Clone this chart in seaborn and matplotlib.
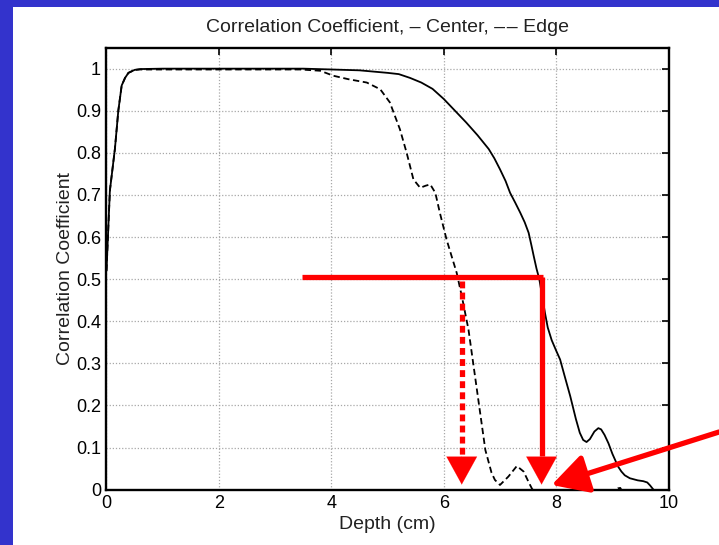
import numpy as np
import pandas as pd
import matplotlib
matplotlib.use("Agg")
import matplotlib.pyplot as plt
from matplotlib.patches import Rectangle
import seaborn as sns

# Correlation coefficient vs depth: centre of the field (solid) and edge (dashed)
center_depth = [0.0, 0.06, 0.15, 0.21, 0.27, 0.33, 0.39, 0.5, 0.6, 1.0, 2.0, 3.0, 3.5,
                4.0, 4.5, 5.0, 5.2, 5.4, 5.6, 5.8, 6.0, 6.2, 6.4, 6.6, 6.8, 6.9, 7.0,
                7.1, 7.18, 7.27, 7.36, 7.44, 7.51, 7.56, 7.6, 7.65, 7.7, 7.75, 7.8, 7.85,
                7.92, 8.0, 8.07, 8.15, 8.25, 8.35, 8.42, 8.48, 8.54, 8.6, 8.68, 8.75, 8.8,
                8.86, 8.93, 9.0, 9.05, 9.1, 9.16, 9.22, 9.31, 9.45, 9.55, 9.62, 9.67, 9.73]
center_corr = [0.52, 0.71, 0.81, 0.90, 0.96, 0.978, 0.99, 0.997, 0.999, 1.0, 1.0, 1.0, 1.0,
               0.998, 0.996, 0.99, 0.987, 0.978, 0.967, 0.952, 0.928, 0.90, 0.872, 0.842,
               0.809, 0.787, 0.761, 0.733, 0.705, 0.682, 0.658, 0.635, 0.61, 0.58, 0.555,
               0.525, 0.50, 0.46, 0.42, 0.385, 0.355, 0.33, 0.309, 0.27, 0.222, 0.168,
               0.135, 0.118, 0.113, 0.12, 0.138, 0.146, 0.143, 0.13, 0.11, 0.085, 0.07,
               0.055, 0.043, 0.034, 0.027, 0.022, 0.02, 0.017, 0.01, 0.0]

edge_depth = [0.0, 0.06, 0.15, 0.21, 0.27, 0.33, 0.39, 0.5, 0.6, 1.0, 2.0, 3.0, 3.45,
              3.8, 4.04, 4.3, 4.63, 4.87, 5.04, 5.22, 5.34, 5.46, 5.58, 5.68, 5.76, 5.85,
              5.93, 6.05, 6.15, 6.23, 6.32, 6.44, 6.59, 6.74, 6.85, 6.91, 7.0, 7.15, 7.3,
              7.42, 7.52, 7.57, 7.7, 8.0, 8.4, 8.5, 8.6, 8.9, 9.1, 9.14, 9.2, 9.4]
edge_corr = [0.52, 0.71, 0.81, 0.90, 0.96, 0.978, 0.99, 0.997, 0.998, 0.998, 0.998, 0.998, 0.998,
             0.995, 0.983, 0.975, 0.967, 0.951, 0.92, 0.856, 0.80, 0.737, 0.717, 0.722, 0.725,
             0.705, 0.658, 0.594, 0.55, 0.515, 0.46, 0.38, 0.237, 0.094, 0.04, 0.023, 0.011,
             0.031, 0.056, 0.043, 0.015, 0.002, -0.02, -0.03, -0.005, 0.011, -0.005, -0.02,
             0.003, 0.004, -0.01, -0.03]

x_ticks = [0, 2, 4, 6, 8, 10]
y_ticks = [0, 0.1, 0.2, 0.3, 0.4, 0.5, 0.6, 0.7, 0.8, 0.9, 1]
y_tick_labels = ["0", "0.1", "0.2", "0.3", "0.4", "0.5", "0.6", "0.7", "0.8", "0.9", "1"]

# Half-correlation markers
half_level = 0.505
half_start = 3.47
edge_half_depth = 6.32
center_half_depth = 7.74
arrow_tip = 0.012
pointer_tip = (7.92, 0.011)

df = pd.concat([
    pd.DataFrame({"Depth": center_depth, "Corr": center_corr, "Position": "Center"}),
    pd.DataFrame({"Depth": edge_depth, "Corr": edge_corr, "Position": "Edge"}),
])

sns.set_theme(style="white")
plt.rcParams["font.family"] = ["Liberation Sans", "DejaVu Sans"]

BLUE = "#3333cc"
RED = "#ff0000"
TEXT = "#222222"

fig = plt.figure(figsize=(7.19, 5.45), dpi=100, facecolor=BLUE)
fig.patches.append(Rectangle((13 / 719, 0), 1, (545 - 7) / 545, transform=fig.transFigure,
                             facecolor="white", edgecolor="none", zorder=-10))
ax = fig.add_axes([106.5 / 719, (545 - 489.6) / 545, (668.6 - 106.5) / 719, (489.6 - 47.6) / 545])
ax.set_zorder(1)
ax.set_facecolor("white")

sns.lineplot(data=df, x="Depth", y="Corr", hue="Position", style="Position",
             palette={"Center": "black", "Edge": "black"},
             dashes={"Center": "", "Edge": (3.5, 2)}, linewidth=1.3,
             legend=False, ax=ax, sort=False, estimator=None)

ax.set_xlim(0, 10)
ax.set_ylim(0, 1.05)
ax.set_xticks(x_ticks)
ax.set_xticklabels([str(t) for t in x_ticks])
ax.set_yticks(y_ticks)
ax.set_yticklabels(y_tick_labels)
ax.grid(True, color="#a8a8a8", linestyle=(0, (1, 1.5)), linewidth=0.9)
ax.tick_params(direction="in", length=5, width=1.2, top=True, right=True,
               labelsize=13, colors="black", pad=4)
for s in ax.spines.values():
    s.set_linewidth(1.7)
    s.set_color("black")

ax.set_title("Correlation Coefficient, \u2013 Center, \u2013\u200a\u2013 Edge", fontsize=14,
             color=TEXT, pad=11)
ax.set_xlabel("Depth (cm)", fontsize=14, labelpad=3, color=TEXT)
ax.set_ylabel("Correlation Coefficient", fontsize=14, labelpad=1, color=TEXT)

# Red guide lines at correlation 0.5
ax.plot([half_start, center_half_depth + 0.03], [half_level, half_level], color=RED,
        linewidth=3.8, solid_capstyle="butt", zorder=5)
ax.plot([center_half_depth, center_half_depth], [half_level, 0.08], color=RED,
        linewidth=3.8, solid_capstyle="butt", zorder=5)
ax.plot([edge_half_depth, edge_half_depth], [half_level - 0.01, 0.08], color=RED,
        linewidth=3.8, linestyle=(0, (1.3, 0.8)), dash_capstyle="butt", zorder=5)
head = dict(arrowstyle="-|>,head_length=1.0,head_width=0.55", mutation_scale=20,
            color=RED, lw=0.1, shrinkA=0, shrinkB=0)
for xd in (edge_half_depth, center_half_depth):
    ax.annotate("", xy=(xd, arrow_tip), xytext=(xd, arrow_tip + 0.068),
                arrowprops=head, zorder=6)

ax.annotate("", xy=pointer_tip, xycoords="data", xytext=(1.0, (545 - 432) / 545),
            textcoords="figure fraction", annotation_clip=False, zorder=6,
            arrowprops=dict(arrowstyle="-|>,head_length=1.1,head_width=0.6",
                            mutation_scale=20, color=RED, lw=3.8, shrinkA=0, shrinkB=0))

fig.savefig("out.png", dpi=100, facecolor=BLUE)
